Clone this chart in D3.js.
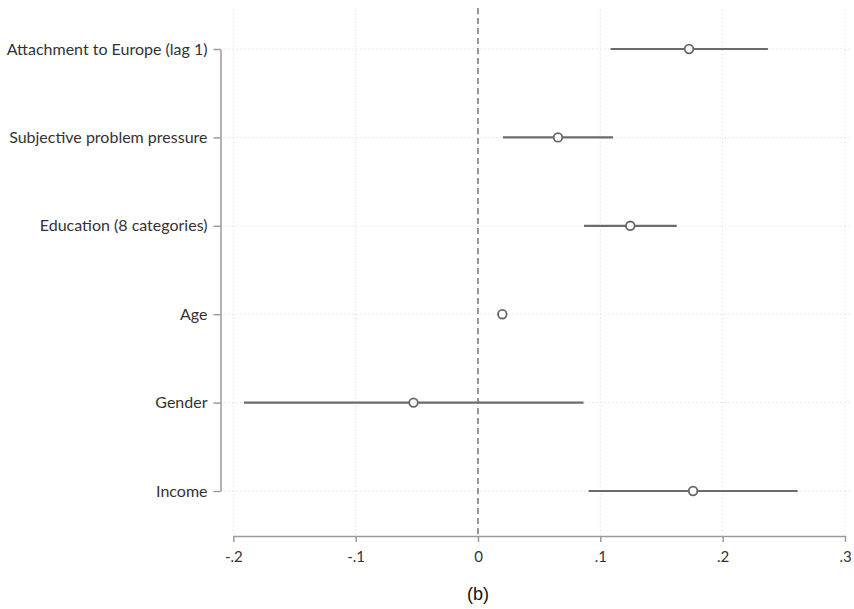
<!DOCTYPE html>
<html><head><meta charset="utf-8">
<script src="https://cdn.jsdelivr.net/npm/d3@7"></script>
<style>body{margin:0;background:#fff}</style>
</head><body>
<svg id="chart" width="854" height="609"></svg>
<script>
const categories = ["Attachment to Europe (lag 1)","Subjective problem pressure","Education (8 categories)","Age","Gender","Income"];
const estimates = [0.1725, 0.0654, 0.1245, 0.0199, -0.0527, 0.1758];
const lower = [0.1084, 0.0204, 0.0867, 0.0175, -0.1913, 0.0904];
const upper = [0.2370, 0.1104, 0.1624, 0.0225, 0.0863, 0.2613];
const xTicks = [-0.2, -0.1, 0, 0.1, 0.2, 0.3];
const xTickLabels = ["-.2","-.1","0",".1",".2",".3"];
const caption = "(b)";

const svg = d3.select("#chart");
const x = d3.scaleLinear().domain([-0.2, 0.3]).range([233.3, 845]);
const y = d3.scalePoint().domain(categories).range([49, 491]);
const axisX0 = 220.5, axisY0 = 536;
const font = "Lato, 'Open Sans', sans-serif";

// grid
svg.append("g").selectAll("line").data(xTicks).join("line")
  .attr("x1", d => x(d)).attr("x2", d => x(d)).attr("y1", 10).attr("y2", axisY0)
  .attr("stroke", "#d4d4d4").attr("stroke-width", 1).attr("stroke-dasharray", "1,3");
svg.append("g").selectAll("line").data(categories).join("line")
  .attr("x1", axisX0).attr("x2", 850).attr("y1", d => y(d)).attr("y2", d => y(d))
  .attr("stroke", "#d4d4d4").attr("stroke-width", 1).attr("stroke-dasharray", "1,3");

// zero line
svg.append("line").attr("x1", x(0)).attr("x2", x(0)).attr("y1", 8).attr("y2", axisY0)
  .attr("stroke", "#777").attr("stroke-width", 1.5).attr("stroke-dasharray", "6,4");

// x axis
const xAxis = d3.axisBottom(x).tickValues(xTicks).tickFormat((d,i) => xTickLabels[i]).tickSize(6).tickSizeOuter(0);
const gx = svg.append("g").attr("transform", `translate(0,${axisY0})`).call(xAxis);
gx.select(".domain").attr("stroke", "#9a9a9a").attr("stroke-width", 1.5);
gx.selectAll(".tick line").attr("stroke", "#9a9a9a").attr("stroke-width", 1.5);
gx.selectAll(".tick text").attr("font-family", font).attr("font-size", 15).attr("fill", "#333").attr("dy", "1.15em");

// y axis
const yAxis = d3.axisLeft(y).tickSize(7).tickSizeOuter(0).tickPadding(6);
const gy = svg.append("g").attr("transform", `translate(${axisX0},0)`).call(yAxis);
gy.select(".domain").attr("stroke", "#9a9a9a").attr("stroke-width", 1.5);
gy.selectAll(".tick line").attr("stroke", "#9a9a9a").attr("stroke-width", 1.5);
gy.selectAll(".tick text").attr("font-family", font).attr("font-size", 16).attr("fill", "#333");

// CI lines
svg.append("g").selectAll("line").data(categories).join("line")
  .attr("x1", (d,i) => x(lower[i])).attr("x2", (d,i) => x(upper[i]))
  .attr("y1", d => y(d)).attr("y2", d => y(d))
  .attr("stroke", "#6b6b6b").attr("stroke-width", 2.2);

// points
svg.append("g").selectAll("circle").data(categories).join("circle")
  .attr("cx", (d,i) => x(estimates[i])).attr("cy", d => y(d)).attr("r", 4.3)
  .attr("fill", "#fff").attr("stroke", "#666").attr("stroke-width", 1.8);

// caption
svg.append("text").attr("x", 478).attr("y", 600).attr("text-anchor", "middle")
  .attr("font-family", "'Liberation Sans', Arial, sans-serif").attr("font-size", 18).attr("fill", "#111").text(caption);
</script>
</body></html>
